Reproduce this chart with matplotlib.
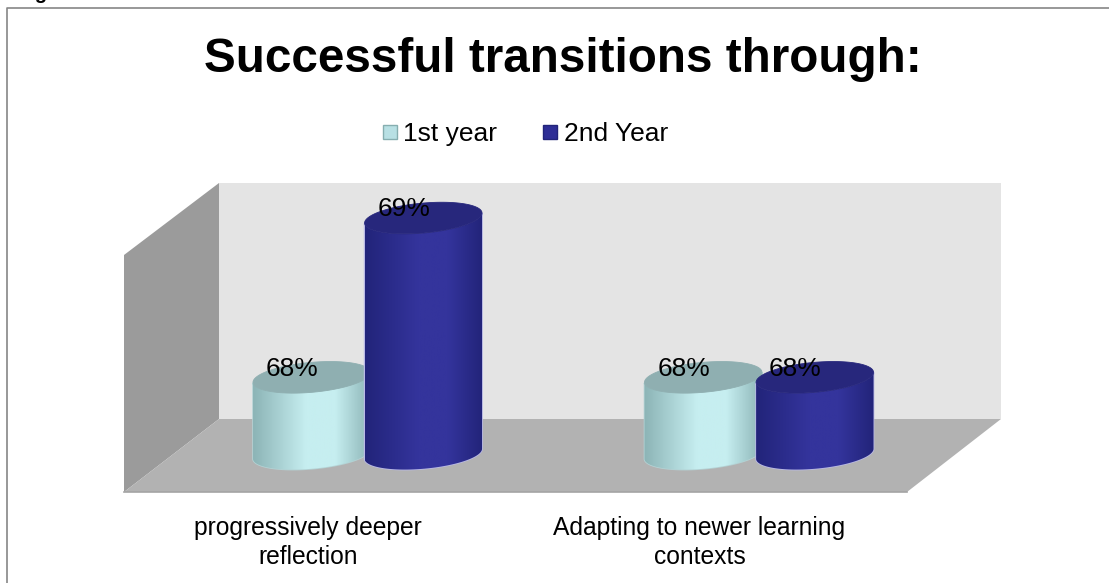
#!/usr/bin/env python3
# 3D-look cylinder chart of successful transitions, by year of study
import numpy as np
import matplotlib
matplotlib.use('Agg')
import matplotlib.pyplot as plt
from matplotlib.colors import LinearSegmentedColormap
from matplotlib.lines import Line2D
from matplotlib.patches import Polygon

plt.rcParams['font.family'] = ['Liberation Sans', 'DejaVu Sans']

title = 'Successful transitions through:'
categories = ['progressively deeper\nreflection', 'Adapting to newer learning\ncontexts']
series_names = ['1st year', '2nd Year']
first_year = [68, 68]
second_year = [69, 68]

W, H = 1109, 583
fig = plt.figure(figsize=(W / 100, H / 100), dpi=100, facecolor='white')

# backdrop in pixel coordinates: frame and the three walls
bg = fig.add_axes([0, 0, 1, 1])
bg.set_xlim(0, W)
bg.set_ylim(H, 0)
bg.axis('off')
bg.plot([6.5, 6.5, W], [H, 7.5, 7.5], color='#868686', lw=1.2)
bg.add_patch(Polygon([(219, 183), (1001, 183), (1001, 419), (219, 419)], fc='#e4e4e4', ec='none'))
bg.add_patch(Polygon([(124, 255), (219, 183), (219, 419), (124, 492)], fc='#9b9b9b', ec='none'))
bg.add_patch(Polygon([(124, 492), (907, 492), (1001, 419), (219, 419)], fc='#b2b2b2', ec='none'))
bg.plot([124, 907], [492, 492], color='#a4a4a4', lw=1.2)
bg.text(18, -1, 'Figure', fontsize=14.5, fontweight='bold', va='baseline', clip_on=True)
bg.text(562.5, 59, title, fontsize=34.3, fontweight='bold', ha='center', va='center')

# value axes: one percentage point is about 159 px tall
ax = fig.add_axes([124 / W, 1 - 492 / H, (907 - 124) / W, (492 - 255) / H])
ax.patch.set_alpha(0)
ax.set_xlim(-0.5, 1.5)
ax.set_ylim(67.28, 68.768)
for s in ax.spines.values():
    s.set_visible(False)
ax.set_yticks([])

BASE = 67.52
DEPTH = 0.122
OFFSET = 0.1425
BAR_W = 0.3
RY = 15 / 159.3
TILT = 5 / 59 / 159.3 * 391.5


def cylinder(x, value, edge, mid, top, halo):
    rx = BAR_W / 2
    t = np.linspace(0, 2 * np.pi, 181)
    ex = x + rx * np.cos(t)

    def ring(v):
        return v + RY * np.sin(t) + TILT * rx * np.cos(t)

    # body outline: lower half of the base ring and lower half of the top ring
    lower = t > np.pi
    order = np.argsort(ex[lower])
    xs = np.r_[ex[lower][order], ex[lower][order][::-1]]
    ys = np.r_[ring(BASE)[lower][order], ring(value)[lower][order][::-1]]
    ax.fill(xs, ys, fc=halo, ec=halo, lw=1.2, zorder=x + 1, clip_on=False)
    cmap = LinearSegmentedColormap.from_list('body', [(0, edge), (0.45, mid), (0.7, mid), (1, edge)], N=128)
    grad = np.linspace(0, 1, 128)[None, :]
    body = Polygon(np.c_[xs, ys], transform=ax.transData, fc='none', ec='none')
    ax.add_patch(body)
    im = ax.imshow(grad, cmap=cmap, aspect='auto', zorder=x + 1.1,
                   extent=[x - rx, x + rx, BASE - 2 * RY, value + 2 * RY])
    im.set_clip_box(fig.bbox)
    im.set_clip_path(body)
    ax.fill(ex, ring(value), fc=top, ec=top, lw=0.6, zorder=x + 1.2, clip_on=False)
    ax.text(x - 0.05, value + 0.055, f'{value}%', fontsize=19, ha='center', va='center', zorder=9)


for i in range(len(categories)):
    cylinder(i + DEPTH - OFFSET, first_year[i], '#8cb4b6', '#c6eef0', '#8fafb1', '#b4d2d4')
    cylinder(i + DEPTH + OFFSET, second_year[i], '#22247a', '#34349c', '#27277c', '#b9b9e6')

ax.set_xlim(-0.5, 1.5)
ax.set_ylim(67.28, 68.768)
ax.set_xticks([-0.03, 0.97], categories, fontsize=17.7, linespacing=1.28)
ax.tick_params(axis='x', length=0, pad=17)

handles = [Line2D([], [], ls='none', marker='s', ms=10.5, mfc='#b8e0e4', mec='#86aeb0', mew=1),
           Line2D([], [], ls='none', marker='s', ms=10.5, mfc='#2e2e96', mec='#22247a', mew=1)]
fig.legend(handles, series_names, loc='center', bbox_to_anchor=(523.5 / W, 1 - 134 / H), ncol=2,
           frameon=False, fontsize=19, handlelength=0.8, handletextpad=0.12, columnspacing=1.6)

fig.savefig('out.png', dpi=100)
